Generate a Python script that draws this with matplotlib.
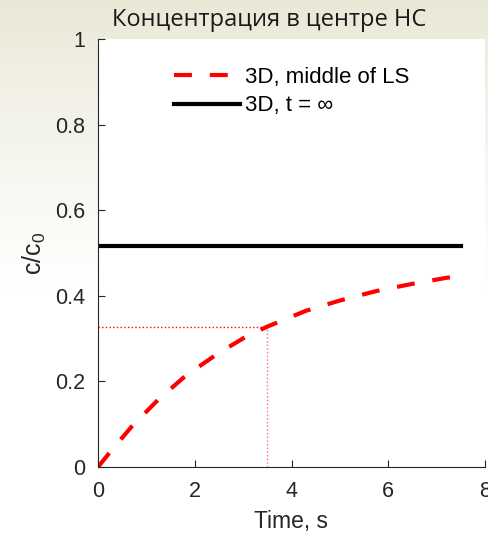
import numpy as np
import matplotlib
matplotlib.use("Agg")
import matplotlib.pyplot as plt

# concentration at the middle of the layer vs time
t_mid = [0, 0.25, 0.7, 1.25, 1.8, 2.45, 3.05, 3.5, 4.3, 5.0, 5.75, 6.5, 7.2, 7.5]
c_mid = [0, 0.035, 0.095, 0.158, 0.212, 0.263, 0.304, 0.328, 0.365, 0.389, 0.411, 0.428, 0.442, 0.446]

# steady state level
t_inf = [0, 7.5]
c_inf = [0.517, 0.517]

# marked point
t_mark = 3.5
c_mark = 0.328

xticks = [0, 2, 4, 6, 8]
yticks = [0, 0.2, 0.4, 0.6, 0.8, 1]

plt.rcParams['font.family'] = ['Liberation Sans', 'DejaVu Sans']

fig = plt.figure(figsize=(4.88, 5.34), dpi=100)

# slide-like background, beige at the top fading to white
bg = fig.add_axes([0, 0, 1, 1], zorder=-10)
grad = np.linspace(0, 1, 256)
grad = np.clip(grad / 0.55, 0, 1) ** 0.8
top = np.array([233, 231, 213]) / 255.0
img = top[None, :] * (1 - grad[:, None]) + np.ones(3)[None, :] * grad[:, None]
bg.imshow(img[:, None, :], aspect='auto', extent=[0, 1, 0, 1])
bg.axis('off')

ax = fig.add_axes([98 / 488, 67 / 534, 387 / 488, 428 / 534])
ax.set_facecolor('white')

ax.plot([0, t_mark], [c_mark, c_mark], color='red', lw=1.0, ls=':')
ax.plot([t_mark, t_mark], [0, c_mark], color='#ff7070', lw=1.0, ls=':')
ax.plot(t_mid, c_mid, color='red', lw=3, ls=(0, (4.3, 4.3)), label='3D, middle of LS')
ax.plot(t_inf, c_inf, color='black', lw=3, label='3D, t = ∞')

ax.set_xlim(0, 8)
ax.set_ylim(0, 1)
ax.set_xticks(xticks)
ax.set_yticks(yticks)
ax.set_xticklabels([str(v) for v in xticks])
ax.set_yticklabels(['0', '0.2', '0.4', '0.6', '0.8', '1'])
ax.tick_params(direction='in', length=5, width=0.8, labelsize=15.5, colors='#262626')
ax.tick_params(axis='x', pad=10)
ax.tick_params(axis='y', pad=9)
ax.spines['top'].set_visible(False)
ax.spines['right'].set_visible(False)
ax.spines['left'].set_color('#262626')
ax.spines['bottom'].set_color('#262626')

ax.set_xlabel('Time, s', fontsize=16.5, color='#262626', labelpad=6)
ax.set_ylabel('c/c$_{\\mathregular{0}}$', fontsize=18, color='#262626', labelpad=5)

leg = ax.legend(loc='upper center', bbox_to_anchor=(0.5, 0.982), frameon=False,
                fontsize=16, handlelength=3.0, handletextpad=0.2, labelspacing=0.35)

fig.text(269 / 488, 1 - 20 / 534, 'Концентрация в центре НС', ha='center', va='center',
         fontsize=17, family='Open Sans', color='#1a1a1a')

fig.savefig('out.png', dpi=100)
